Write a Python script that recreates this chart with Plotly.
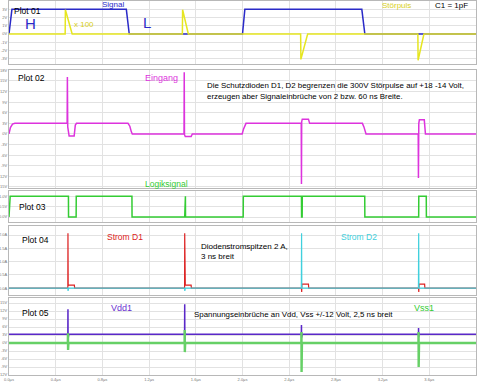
import plotly.graph_objects as go

# ---------------- data (time in µs) ----------------
signal_t = [0.0, 0.025, 1.005, 1.03, 2.0, 2.02, 3.022, 3.048, 4.0]
signal_v = [0, 3, 3, 0, 0, 3, 3, 0, 0]

stoer_t = [0.0, 0.481, 0.483, 0.541, 1.485, 1.487, 1.536, 2.498, 2.500, 2.558, 3.502, 3.504, 3.554, 4.0]
stoer_v = [0, 0, 2.95, 0, 0, 2.95, 0, 0, -3.1, 0, 0, -3.2, 0, 0]

eingang_t = [0.0, 0.012, 0.03, 0.05, 0.498, 0.500, 0.503, 0.515, 0.558, 0.568, 0.578,
             1.019, 1.035, 1.048, 1.056, 1.499, 1.501, 1.503, 1.510, 1.560, 1.570,
             1.997, 2.010, 2.022, 2.030, 2.503, 2.505, 2.507, 2.512, 2.565, 2.575,
             3.027, 3.040, 3.052, 3.058, 3.505, 3.507, 3.510, 3.515, 3.557, 3.567, 4.0]
eingang_v = [0, 1.8, 2.8, 3.0, 3.0, 16.1, 2.0, -0.6, -0.6, 2.5, 3.0,
             3.0, 2.2, 0.6, 0.0, 0.0, 17.5, -0.2, -0.75, -0.75, 0.0,
             0.0, 1.5, 2.8, 3.0, 3.0, -14.2, 3.5, 4.2, 4.2, 3.0,
             3.0, 2.0, 0.4, 0.0, 0.0, -12.5, 3.0, 4.0, 4.0, 0.0, 0.0]

logik_t = [0.0, 0.01, 0.509, 0.510, 0.575, 0.576, 1.053, 1.054, 1.505, 1.506, 1.511, 1.512,
           2.006, 2.007, 2.505, 2.506, 2.511, 2.512, 3.047, 3.048, 3.509, 3.510, 3.574, 3.575, 4.0]
logik_v = [0, 1, 1, 0, 0, 1, 1, 0, 0, 1, 1, 0,
           0, 1, 1, 0, 0, 1, 1, 0, 0, 1, 1, 0, 0]

d1_t = [0.0, 0.504, 0.505, 0.507, 0.510, 0.560, 0.562, 1.504, 1.505, 1.507, 1.510, 1.560, 1.562,
        2.505, 2.507, 2.509, 2.565, 2.567, 3.508, 3.510, 3.512, 3.560, 3.562, 4.0]
d1_v = [0, 0, 2.07, 0.1, 0.11, 0.11, 0, 0, 2.07, 0.1, 0.11, 0.11, 0,
        0, -0.15, 0.15, 0.15, 0, 0, -0.15, 0.15, 0.15, 0, 0]

d2_t = [0.0, 0.504, 0.506, 0.510, 1.504, 1.506, 1.510, 2.504, 2.506, 2.508, 3.507, 3.509, 3.511, 4.0]
d2_v = [0, 0, -0.11, 0, 0, -0.11, 0, 0, 2.07, 0, 0, 2.07, 0, 0]

vdd_t = [0.0, 0.504, 0.505, 0.506, 0.508, 0.512, 1.504, 1.505, 1.506, 1.508, 1.512,
         2.504, 2.505, 2.506, 2.508, 2.512, 3.507, 3.508, 3.509, 3.511, 3.515, 4.0]
vdd_v = [3.3, 3.3, 12.7, 1.5, 4.2, 3.3, 3.3, 14.6, 1.2, 4.4, 3.3,
         3.3, 6.8, 2.0, 3.9, 3.3, 3.3, 5.6, 2.2, 3.8, 3.3, 3.3]

vss_t = [0.0, 0.504, 0.505, 0.506, 0.509, 1.504, 1.505, 1.506, 1.509,
         2.504, 2.505, 2.506, 2.509, 3.507, 3.508, 3.509, 3.512, 4.0]
vss_v = [0, 0, 3.7, -2.6, 0, 0, 4.9, -3.4, 0,
         0, 4.1, -10.9, 0, 0, 4.1, -9.0, 0, 0]

x_ticks = [0.0, 0.4, 0.8, 1.2, 1.6, 2.0, 2.4, 2.8, 3.2, 3.6, 4.0]
x_labels = ["0.0µs", "0.4µs", "0.8µs", "1.2µs", "1.6µs", "2.0µs", "2.4µs", "2.8µs", "3.2µs", "3.6µs", "4.0µs"]

y1_ticks = [-3, -2, -1, 0, 1, 2, 3, 4]
y1_labels = ["-3V", "-2V", "-1V", "0V", "1V", "2V", "3V", "4V"]
y2_ticks = [-15, -12, -9, -6, -3, 0, 3, 6, 9, 12, 15, 18]
y2_labels = ["-15V", "-12V", "-9V", "-6V", "-3V", "0V", "3V", "6V", "9V", "12V", "15V", "18V"]
y3_ticks = [0, 0.5, 1.0]
y3_labels = ["0.0V", "0.5V", "1.0V"]
y4_ticks = [0, 0.5, 1.0, 1.5, 2.0]
y4_labels = ["0.0A", "0.5A", "1.0A", "1.5A", "2.0A"]
y5_ticks = [-12, -9, -6, -3, 0, 3, 6, 9, 12, 15]
y5_labels = ["-12V", "-9V", "-6V", "-3V", "0V", "3V", "6V", "9V", "12V", "15V"]

# ---------------- layout geometry (pixels) ----------------
W, H = 480, 386
ML, MR, MT, MB = 9, 4, 1, 11
PT, PB = MT, H - MB          # plot area top / bottom pixel
PL, PR = ML, W - MR

def fy(py):
    return (PB - py) / (PB - PT)

def fx(px):
    return (px - PL) / (PR - PL)

panes = [  # (top px, bottom px, y range, ticks, labels)
    (1, 64, [-3.66, 4.02], y1_ticks, y1_labels),
    (69.5, 188, [-15.3, 18.25], y2_ticks, y2_labels),
    (191, 222, [-0.24, 1.26], y3_ticks, y3_labels),
    (226, 295, [-0.26, 2.34], y4_ticks, y4_labels),
    (298, 375, [-12.0, 16.9], y5_ticks, y5_labels),
]

fig = go.Figure()

grid_col = "#e2e2e2"
box_col = "#b8b8b8"
tick_font = dict(family="Liberation Sans, Arial", size=4, color="#777777")

layout = dict(
    width=W, height=H,
    margin=dict(l=ML, r=MR, t=MT, b=MB, autoexpand=False),
    paper_bgcolor="white", plot_bgcolor="white",
    showlegend=False,
    font=dict(family="Liberation Sans, Arial", size=8, color="black"),
)

for i, (top, bot, rng, tv, tt) in enumerate(panes, start=1):
    xa = "xaxis" if i == 1 else f"xaxis{i}"
    ya = "yaxis" if i == 1 else f"yaxis{i}"
    layout[xa] = dict(
        domain=[0, 1], range=[0, 4.0], anchor=("y" if i == 1 else f"y{i}"),
        tickvals=x_ticks, ticktext=x_labels, showticklabels=(i == 5),
        tickfont=tick_font, showgrid=True, gridcolor=grid_col, gridwidth=1,
        zeroline=False, showline=True, mirror=True, linecolor=box_col, linewidth=1,
        ticks="", fixedrange=True, automargin=False,
    )
    if i != 1:
        layout[xa]["matches"] = "x"
    layout[ya] = dict(
        domain=[fy(bot), fy(top)], range=rng, anchor=("x" if i == 1 else f"x{i}"),
        tickvals=tv, ticktext=tt, tickfont=tick_font, showgrid=True,
        gridcolor=grid_col, gridwidth=1, zeroline=False, showline=True, mirror=True,
        linecolor=box_col, linewidth=1, ticks="", ticklen=0, fixedrange=True,
        automargin=False,
    )

def add(t, v, color, width, idx):
    fig.add_trace(go.Scatter(
        x=t, y=v, mode="lines", line=dict(color=color, width=width, shape="linear"),
        xaxis=("x" if idx == 1 else f"x{idx}"), yaxis=("y" if idx == 1 else f"y{idx}"),
        hoverinfo="skip"))

add(signal_t, signal_v, "#2a2ac8", 1.5, 1)
add(stoer_t, stoer_v, "#e6e620", 1.5, 1)
add(eingang_t, eingang_v, "#dd33dd", 1.5, 2)
add(logik_t, logik_v, "#33cc33", 1.5, 3)
add(d1_t, d1_v, "#dd2222", 1.2, 4)
add(d2_t, d2_v, "#40d0dd", 1.2, 4)
add(vdd_t, vdd_v, "#5a28c8", 1.5, 5)
add(vss_t, vss_v, "#66d066", 2.4, 5)

def txt(s, px, py, color="black", size=8, anchor="left"):
    return dict(text=s, x=fx(px), y=fy(py), xref="paper", yref="paper",
                xanchor=anchor, yanchor="middle", showarrow=False,
                font=dict(family="Liberation Sans, Arial", size=size, color=color))

ann = [
    txt("Plot 01", 12, 11, size=8.5),
    txt("Signal", 113, 4.5, "#2a2ac8", 8, "center"),
    txt("H", 30, 23, "#2a2ac8", 15, "center"),
    txt("x 100", 84, 24, "#d8d020", 8, "center"),
    txt("L", 147, 22, "#2a2ac8", 15, "center"),
    txt("Störpuls", 396, 5, "#d8d020", 8, "center"),
    txt("C1 = 1pF", 451, 5, "black", 8, "center"),
    txt("Plot 02", 16, 78, size=8.5),
    txt("Eingang", 161, 78, "#dd33dd", 9, "center"),
    txt("Die Schutzdioden D1, D2 begrenzen die 300V Störpulse auf +18 -14 Volt,", 205, 85.5, size=7.9),
    txt("erzeugen aber Signaleinbrüche von 2 bzw. 60 ns Breite.", 205, 96.5, size=7.9),
    txt("Logiksignal", 166, 184, "#33cc33", 8.5, "center"),
    txt("Plot 03", 17, 207, size=8.5),
    txt("Plot 04", 20, 240, size=8.5),
    txt("Strom D1", 125, 237, "#dd2222", 8.5, "center"),
    txt("Diodenstromspitzen 2 A,", 199, 246.5, size=8),
    txt("3 ns breit", 199, 256.5, size=8),
    txt("Strom D2", 359, 237, "#40d0dd", 8.5, "center"),
    txt("Plot 05", 20, 313, size=8.5),
    txt("Vdd1", 121, 308, "#6a30d0", 9, "center"),
    txt("Spannungseinbrüche an Vdd, Vss +/-12 Volt, 2,5 ns breit", 192, 314.5, size=7.9),
    txt("Vss1", 424, 308, "#33cc33", 9, "center"),
]
layout["annotations"] = ann

fig.update_layout(**layout)
fig.write_html("out.html", config={"displayModeBar": False, "staticPlot": True},
               post_script="document.body.style.margin='0';")
